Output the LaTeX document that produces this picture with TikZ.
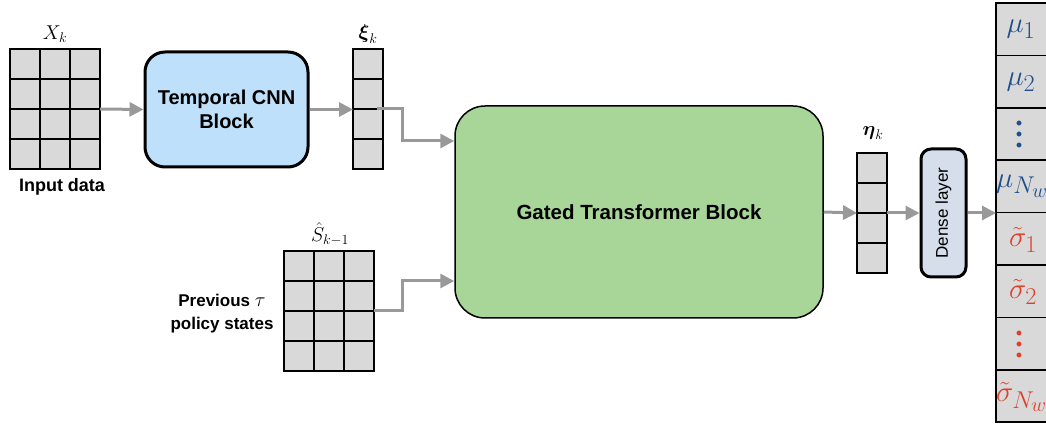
\RequirePackage{fix-cm}
\documentclass[tikz,border=0pt]{standalone}
\usepackage{amsmath}
\usepackage{graphicx}
\usepackage[no-math]{fontspec}
\newfontfamily\arial{Liberation Sans}
\newfontfamily\tms{Liberation Serif}
\usetikzlibrary{arrows.meta}
\definecolor{cellgray}{HTML}{D9D9D9}
\definecolor{cnnblue}{HTML}{BFE0FA}
\definecolor{gtgreen}{HTML}{A8D598}
\definecolor{densefill}{HTML}{D5DEEA}
\definecolor{arrgray}{HTML}{999999}
\definecolor{mublue}{HTML}{1F4E8C}
\definecolor{sigred}{HTML}{E0402A}
\tikzset{
  cell/.style={draw=black, line width=1.5pt, fill=cellgray, minimum width=30pt, minimum height=30pt, inner sep=0pt, outer sep=0pt},
  gridframe/.style={inner sep=0pt, outer sep=0pt},
  flow/.style={draw=arrgray, line width=3pt, -{Triangle[length=14pt,width=14pt]}},
  lbl/.style={inner sep=0pt, font=\arial\bfseries\fontsize{18}{21}\selectfont, align=center},
  mathlbl/.style={inner sep=0pt, font=\fontsize{20}{22}\selectfont},
  outcell/.style={draw=black, line width=1.5pt, fill=cellgray, minimum width=64pt, minimum height=52.4pt, inner sep=0pt, outer sep=0pt},
  outtxt/.style={inner sep=0pt, font=\fontsize{24.88}{30}\selectfont},
}
\newcommand\cellgrid[5]{%
  \foreach \i in {1,...,#4} {\foreach \j in {1,...,#5} {\node[cell] at ({#2+(\i-0.5)*30},{#3+(\j-0.5)*30}) {};}}
  \node[gridframe, minimum width=#4*30pt, minimum height=#5*30pt] (#1) at ({#2+#4*15},{#3+#5*15}) {};
}
\newcommand\outmath[1]{\scalebox{1.17}{$#1$}}
\newcommand\tallvdots{{\tms\bfseries\fontsize{30}{30}\selectfont\vbox{\baselineskip=11pt\lineskiplimit=-30pt\hbox{.}\hbox{.}\hbox{.}}}}
\begin{document}
\begin{tikzpicture}[x=1pt,y=-1pt]
\useasboundingbox (0,0) rectangle (1046,427);
\clip (0,0) rectangle (1046,427);
% grids
\cellgrid{X}{10}{49}{3}{4}
\cellgrid{xi}{353}{49}{1}{4}
\cellgrid{S}{284}{251}{3}{4}
\cellgrid{eta}{857}{153}{1}{4}
% labels
\node[mathlbl] (Xl) at (55,34) {$X_k$};
\node[mathlbl] (xil) at (368,34) {$\boldsymbol{\xi}_k$};
\node[mathlbl] (Sl) at (330,234) {$\hat{S}_{k-1}$};
\node[mathlbl] (etal) at (873,133) {$\boldsymbol{\eta}_k$};
\node[lbl] (inl) at (62,187) {Input data};
\node[lbl, font=\arial\bfseries\fontsize{17}{23}\selectfont] (prevl) at (222,314) {Previous {\normalfont\fontsize{20}{22}\selectfont$\tau$}\\policy states};
% blocks
\node[draw=black, line width=3pt, fill=cnnblue, rounded corners=20pt, minimum width=163pt, minimum height=115pt, inner sep=0pt, lbl, font=\arial\bfseries\fontsize{20}{24}\selectfont] (cnn) at (226.5,109.5) {Temporal CNN\\Block};
\node[draw=black, line width=1.5pt, fill=gtgreen, rounded corners=30pt, minimum width=368pt, minimum height=212pt, inner sep=0pt, lbl, font=\arial\bfseries\fontsize{20.5}{24}\selectfont] (gt) at (639,212) {Gated Transformer Block};
\node[draw=black, line width=3pt, fill=densefill, rounded corners=10pt, minimum width=45pt, minimum height=128pt, inner sep=0pt] (dense) at (943.5,213) {};
\node[rotate=90, inner sep=0pt, font=\arial\fontsize{17}{19}\selectfont] (densel) at (dense.center) {Dense layer};
% output column
\foreach \k in {1,...,8} {\node[outcell] (o\k) at (1028,{3+52.4*(\k-0.5)}) {};}
\node[gridframe, minimum width=64pt, minimum height=419.2pt] (out) at (1028,212.6) {};
\node[outtxt, text=mublue] (t1) at (1021,29) {\outmath{\mu_1}};
\node[outtxt, text=mublue] (t2) at (1021,82) {\outmath{\mu_2}};
\node[outtxt, text=mublue] (t3) at (1019,134.5) {\tallvdots};
\node[outtxt, text=mublue, anchor=west] (t4) at (996,186) {\outmath{\mu_{N_w}}};
\node[outtxt, text=sigred] (t5) at (1023,240) {\outmath{\tilde{\sigma}_1}};
\node[outtxt, text=sigred] (t6) at (1023,292) {\outmath{\tilde{\sigma}_2}};
\node[outtxt, text=sigred] (t7) at (1019,344) {\tallvdots};
\node[outtxt, text=sigred, anchor=west] (t8) at (996,397) {\outmath{\tilde{\sigma}_{N_w}}};
% connectors
\coordinate (b1) at (402,125);
\coordinate (b2) at (402,296);
\draw[flow] (X.east) -- (cnn.west);
\draw[flow] (cnn.east) -- (xi.west |- cnn.east);
\draw[flow] ([xshift=-6pt]xi.east) -| (b1) |- ([yshift=71pt]gt.west);
\draw[flow] (S.east) -| (b2) |- ([yshift=-69pt]gt.west);
\draw[flow] (gt.east) -- (eta.west);
\draw[flow] (eta.east) -- (dense.west);
\draw[flow] (dense.east) -- (dense.east -| out.west);
\end{tikzpicture}
\end{document}
